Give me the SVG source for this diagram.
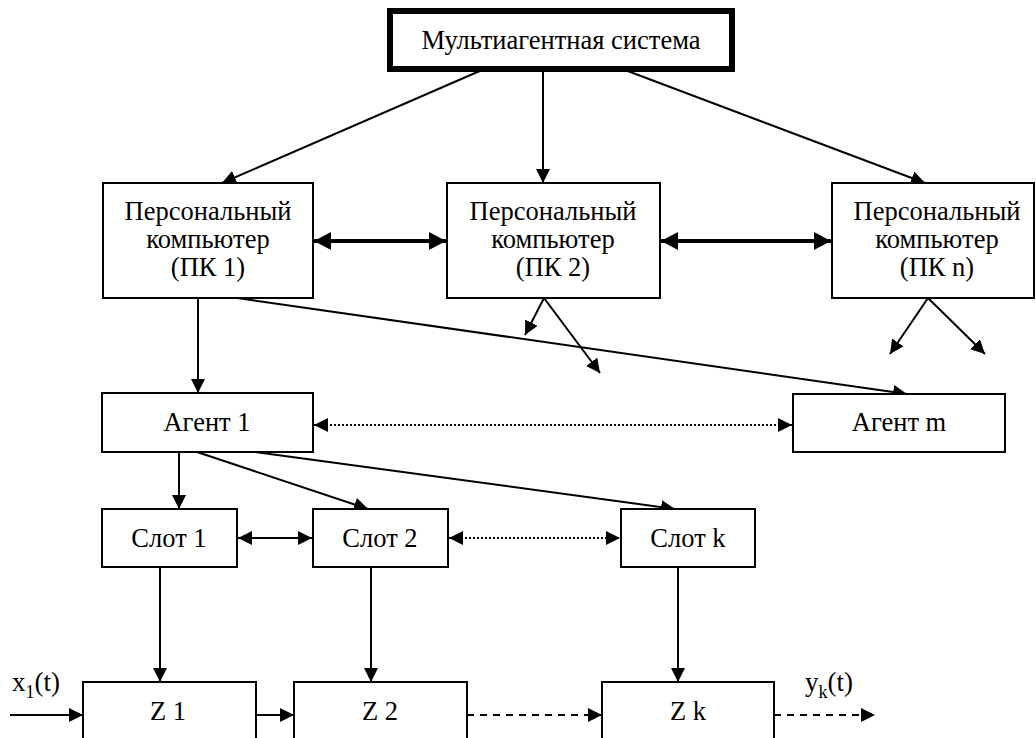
<svg xmlns="http://www.w3.org/2000/svg" width="1036" height="738" viewBox="0 0 1036 738">
<style>
.box{fill:#fff;stroke:#000;stroke-width:2}
.top{fill:#fff;stroke:#000;stroke-width:6}
.t{font-family:"Liberation Serif","Times New Roman",serif;font-size:26.5px;fill:#000;text-anchor:middle}
.tl{font-family:"Liberation Serif","Times New Roman",serif;font-size:27px;fill:#000}
.ln{stroke:#000;stroke-width:2;fill:none}
.thick{stroke:#000;stroke-width:4;fill:none}
.dot{stroke:#000;stroke-width:2;fill:none;stroke-dasharray:2 2}
.dash{stroke:#000;stroke-width:2;fill:none;stroke-dasharray:7 6}
</style>
<defs>
<marker id="a" markerUnits="userSpaceOnUse" markerWidth="15" markerHeight="14" refX="14" refY="7" orient="auto-start-reverse" viewBox="0 0 15 14">
<path d="M0,0 L14,7 L0,14 z" fill="#000"/>
</marker>
<marker id="b" markerUnits="userSpaceOnUse" markerWidth="18" markerHeight="18" refX="17" refY="9" orient="auto-start-reverse" viewBox="0 0 18 18">
<path d="M0,0 L17,9 L0,18 z" fill="#000"/>
</marker>
</defs>

<g id="connectors">
<line class="ln" x1="482" y1="70" x2="222" y2="183" marker-end="url(#a)"/>
<line class="ln" x1="543" y1="70" x2="543" y2="183" marker-end="url(#a)"/>
<line class="ln" x1="625" y1="70" x2="925" y2="183" marker-end="url(#a)"/>
<line class="thick" x1="314" y1="241" x2="446" y2="241" marker-start="url(#b)" marker-end="url(#b)"/>
<line class="thick" x1="661" y1="241" x2="831" y2="241" marker-start="url(#b)" marker-end="url(#b)"/>
<line class="ln" x1="544" y1="298" x2="525" y2="335" marker-end="url(#a)"/>
<line class="ln" x1="544" y1="298" x2="600" y2="373" marker-end="url(#a)"/>
<line class="ln" x1="928" y1="298" x2="890" y2="354" marker-end="url(#a)"/>
<line class="ln" x1="928" y1="298" x2="985" y2="354" marker-end="url(#a)"/>
<line class="ln" x1="198" y1="298" x2="198" y2="393" marker-end="url(#a)"/>
<line class="ln" x1="237" y1="298" x2="907" y2="394" marker-end="url(#a)"/>
<line class="dot" x1="314" y1="425" x2="792" y2="425" marker-start="url(#a)" marker-end="url(#a)"/>
<line class="ln" x1="179" y1="452" x2="179" y2="509" marker-end="url(#a)"/>
<line class="ln" x1="197" y1="452" x2="368" y2="509" marker-end="url(#a)"/>
<line class="ln" x1="255" y1="452" x2="675" y2="509" marker-end="url(#a)"/>
<line class="ln" x1="238" y1="538" x2="312" y2="538" marker-start="url(#a)" marker-end="url(#a)"/>
<line class="dot" x1="449" y1="538" x2="620" y2="538" marker-start="url(#a)" marker-end="url(#a)"/>
<line class="ln" x1="160" y1="567" x2="160" y2="682" marker-end="url(#a)"/>
<line class="ln" x1="371" y1="567" x2="371" y2="682" marker-end="url(#a)"/>
<line class="ln" x1="678" y1="567" x2="678" y2="682" marker-end="url(#a)"/>
<line class="ln" x1="10" y1="715" x2="83" y2="715" marker-end="url(#a)"/>
<line class="ln" x1="256" y1="715" x2="294" y2="715" marker-end="url(#a)"/>
<line class="dash" x1="467" y1="715" x2="602" y2="715" marker-end="url(#a)"/>
<line class="dash" x1="774" y1="715" x2="875" y2="715" marker-end="url(#a)"/>
</g>

<g id="mas">
<rect class="top" x="390" y="11" width="342" height="58"/>
<text class="t" x="561" y="49">Мультиагентная система</text>
</g>
<g id="pc1">
<rect class="box" x="103" y="183" width="210" height="115"/>
<text class="t" x="208" y="220">Персональный</text>
<text class="t" x="208" y="248">компьютер</text>
<text class="t" x="208" y="276">(ПК 1)</text>
</g>
<g id="pc2">
<rect class="box" x="447" y="183" width="213" height="115"/>
<text class="t" x="553" y="220">Персональный</text>
<text class="t" x="553" y="248">компьютер</text>
<text class="t" x="553" y="276">(ПК 2)</text>
</g>
<g id="pcn">
<rect class="box" x="832" y="183" width="202" height="115"/>
<text class="t" x="937" y="220">Персональный</text>
<text class="t" x="937" y="248">компьютер</text>
<text class="t" x="937" y="276">(ПК n)</text>
</g>
<g id="agent1">
<rect class="box" x="102" y="393" width="211" height="59"/>
<text class="t" x="207" y="431">Агент 1</text>
</g>
<g id="agentm">
<rect class="box" x="793" y="394" width="212" height="58"/>
<text class="t" x="899" y="431">Агент m</text>
</g>
<g id="slot1">
<rect class="box" x="102" y="509" width="135" height="58"/>
<text class="t" x="169" y="547">Слот 1</text>
</g>
<g id="slot2">
<rect class="box" x="313" y="509" width="135" height="58"/>
<text class="t" x="380" y="547">Слот 2</text>
</g>
<g id="slotk">
<rect class="box" x="621" y="509" width="134" height="58"/>
<text class="t" x="688" y="547">Слот k</text>
</g>
<g id="z1">
<rect class="box" x="83" y="682" width="173" height="80"/>
<text class="t" x="168" y="720">Z 1</text>
</g>
<g id="z2">
<rect class="box" x="294" y="682" width="173" height="80"/>
<text class="t" x="380" y="720">Z 2</text>
</g>
<g id="zk">
<rect class="box" x="602" y="682" width="172" height="80"/>
<text class="t" x="688" y="720">Z k</text>
</g>
<g id="labels">
<text class="tl" x="12" y="691">x<tspan font-size="18" dy="7">1</tspan><tspan dy="-7">(t)</tspan></text>
<text class="tl" x="805" y="691">y<tspan font-size="18" dy="7">k</tspan><tspan dy="-7">(t)</tspan></text>
</g>
</svg>
